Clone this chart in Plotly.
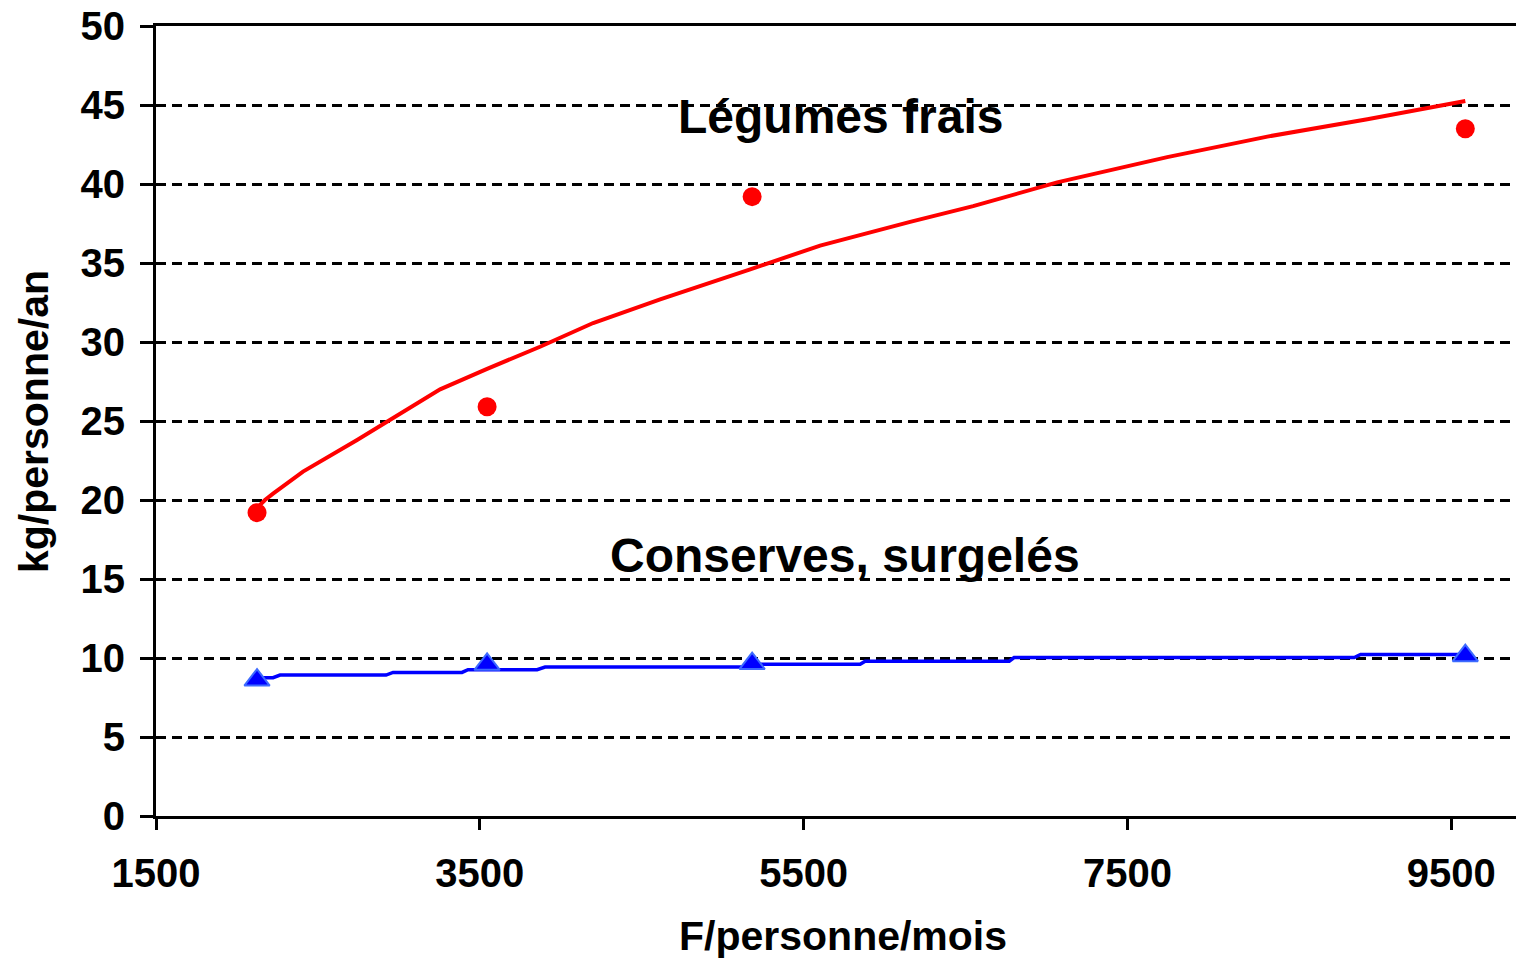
import plotly.graph_objects as go

# Observed data points
income_pts = [2124, 3545, 5182, 9587]
fresh_pts = [19.2, 25.9, 39.2, 43.5]
canned_pts = [8.6, 9.6, 9.65, 10.15]

# Trend curve for fresh vegetables
fresh_trend_x = [2124, 2173, 2223, 2408, 2742, 2964, 3255, 3545, 3872, 4200, 4614,
                 5170, 5602, 6158, 6547, 7066, 7746, 8364, 8982, 9587]
fresh_trend_y = [19.5, 20.0, 20.4, 21.8, 23.8, 25.2, 27.0, 28.3, 29.7, 31.2, 32.7,
                 34.6, 36.1, 37.6, 38.6, 40.1, 41.7, 43.0, 44.1, 45.25]

# Trend line for canned / frozen (stepped as drawn)
canned_trend_x = [2124, 2223, 2266, 2921, 2964, 3390, 3427, 3854, 3903, 5120, 5150,
                  5849, 5880, 6770, 6800, 8901, 8940, 9587]
canned_trend_y = [8.75, 8.75, 8.92, 8.92, 9.09, 9.09, 9.26, 9.26, 9.43, 9.43, 9.6,
                  9.6, 9.8, 9.8, 10.03, 10.03, 10.22, 10.22]

y_ticks = [0, 5, 10, 15, 20, 25, 30, 35, 40, 45, 50]
x_ticks = [1500, 3500, 5500, 7500, 9500]

FONT = "Liberation Sans, Arial, sans-serif"

fig = go.Figure()

fig.add_trace(go.Scatter(x=fresh_trend_x, y=fresh_trend_y, mode="lines",
                         line=dict(color="#FF0000", width=4), showlegend=False,
                         hoverinfo="skip"))
fig.add_trace(go.Scatter(x=canned_trend_x, y=canned_trend_y, mode="lines",
                         line=dict(color="#0000FF", width=3.5), showlegend=False,
                         hoverinfo="skip"))
fig.add_trace(go.Scatter(x=income_pts, y=fresh_pts, mode="markers",
                         marker=dict(symbol="circle", size=19, color="#FF0000",
                                     line=dict(width=0)),
                         name="Légumes frais", showlegend=False))
fig.add_trace(go.Scatter(x=income_pts, y=canned_pts, mode="markers",
                         marker=dict(symbol="triangle-up", size=22, color="#0000FF",
                                     line=dict(width=2, color="#3D6BFF")),
                         name="Conserves, surgelés", showlegend=False))

fig.add_annotation(x=5725, y=44.3, xref="x", yref="y", text="<b>Légumes frais</b>",
                   showarrow=False, font=dict(family=FONT, size=48, color="black"),
                   xanchor="center", yanchor="middle")
fig.add_annotation(x=5756, y=16.5, xref="x", yref="y", text="<b>Conserves, surgelés</b>",
                   showarrow=False, font=dict(family=FONT, size=48, color="black"),
                   xanchor="center", yanchor="middle")

# Axis titles
fig.add_annotation(x=0.505, y=-0.152, xref="paper", yref="paper",
                   text="<b>F/personne/mois</b>", showarrow=False,
                   font=dict(family=FONT, size=41, color="black"),
                   xanchor="center", yanchor="middle")
fig.add_annotation(x=-0.0897, y=0.4987, xref="paper", yref="paper",
                   text="<b>kg/personne/an</b>", showarrow=False, textangle=-90,
                   font=dict(family=FONT, size=41, color="black"),
                   xanchor="center", yanchor="middle")

fig.update_layout(
    width=1516, height=960,
    margin=dict(l=156, r=0, t=26, b=144, autoexpand=False),
    paper_bgcolor="white", plot_bgcolor="white",
    font=dict(family=FONT, color="black"),
)

fig.update_xaxes(
    range=[1500, 9900], tickmode="array", tickvals=x_ticks,
    ticktext=[f"<b>{v}</b>" for v in x_ticks],
    tickfont=dict(family=FONT, size=40, color="black"),
    ticks="outside", ticklen=11, tickwidth=3, tickcolor="black",
    showline=True, linecolor="black", linewidth=3, mirror=True,
    showgrid=False, zeroline=False, ticklabelstandoff=9, automargin=False,
    ticklabeloverflow="allow",
)
fig.update_yaxes(
    range=[0, 50], tickmode="array", tickvals=y_ticks,
    ticktext=[f"<b>{v}</b>" for v in y_ticks],
    tickfont=dict(family=FONT, size=40, color="black"),
    ticks="outside", ticklen=13, tickwidth=3, tickcolor="black",
    showline=True, linecolor="black", linewidth=3,
    showgrid=True, gridcolor="black", gridwidth=2.5, griddash="10px,6px",
    zeroline=False, ticklabelstandoff=7, automargin=False,
    ticklabeloverflow="allow",
)

# Remove the default page margin so the figure fills the window exactly.
fig.write_html(
    "out.html",
    config={"displayModeBar": False},
    post_script="document.body.style.margin='0';document.body.style.overflow='hidden';"
                "Plotly.Plots.resize(document.getElementById('{plot_id}'));",
)
